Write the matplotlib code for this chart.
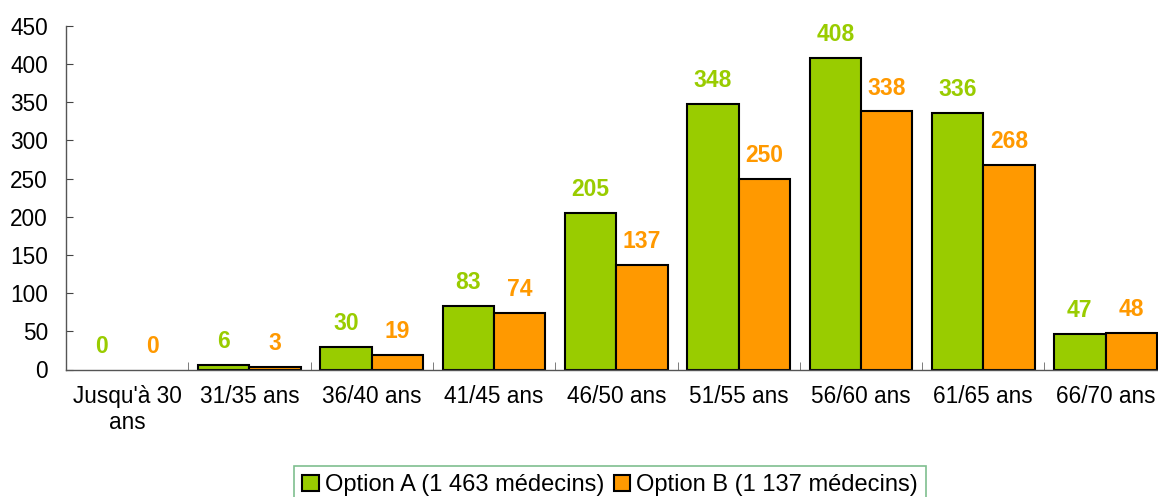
import numpy as np
import matplotlib
matplotlib.use("Agg")
import matplotlib.pyplot as plt
from matplotlib.patches import Patch

plt.rcParams['font.family'] = ['Liberation Sans', 'DejaVu Sans']

# --- DATA ---
categories = ["Jusqu'à 30\nans", "31/35 ans", "36/40 ans", "41/45 ans", "46/50 ans",
              "51/55 ans", "56/60 ans", "61/65 ans", "66/70 ans"]
option_a = [0, 6, 30, 83, 205, 348, 408, 336, 47]
option_b = [0, 3, 19, 74, 137, 250, 338, 268, 48]
label_a = "Option A (1 463 médecins)"
label_b = "Option B (1 137 médecins)"

GREEN = '#99CC00'
ORANGE = '#FF9900'
BAR_W = 0.42

fig = plt.figure(figsize=(11.58, 4.97), dpi=100)
ax = fig.add_axes([66 / 1158, 127.5 / 497, 1100.7 / 1158, 343.5 / 497])

x = np.arange(len(categories))
bars_a = ax.bar(x - BAR_W / 2, option_a, BAR_W, color=GREEN, edgecolor='black', linewidth=1.5)
bars_b = ax.bar(x + BAR_W / 2, option_b, BAR_W, color=ORANGE, edgecolor='black', linewidth=1.5)

# value labels above bars; empty bars get no outline
for bars, vals, col in [(bars_a, option_a, GREEN), (bars_b, option_b, ORANGE)]:
    for b, v in zip(bars, vals):
        if v == 0:
            b.set_linewidth(0)
        ax.annotate(str(v), (b.get_x() + b.get_width() / 2, v), xytext=(0, 8.5),
                    textcoords='offset points', ha='center', va='bottom',
                    color=col, fontsize=16.5, fontweight='bold')

ax.set_xlim(-0.5, len(categories) - 0.5)
ax.set_ylim(0, 450)
ax.set_yticks(np.arange(0, 451, 50))

ax.set_xticks(x)
ax.set_xticklabels(categories, fontsize=16.3, linespacing=1.2)
ax.set_xticks(np.arange(0.5, len(categories) - 0.5, 1), minor=True)
ax.tick_params(axis='x', which='major', length=0, pad=11)
ax.tick_params(axis='x', which='minor', direction='in', length=6, color='#666666')
ax.tick_params(axis='y', direction='in', length=5, pad=13, labelsize=16.3, color='#444444')

for s in ['top', 'right']:
    ax.spines[s].set_visible(False)
for s in ['left', 'bottom']:
    ax.spines[s].set_color('#555555')
    ax.spines[s].set_linewidth(1.0)

handles = [Patch(facecolor=GREEN, edgecolor='black', linewidth=1.5, label=label_a),
           Patch(facecolor=ORANGE, edgecolor='black', linewidth=1.5, label=label_b)]
leg = fig.legend(handles=handles, loc='upper center', bbox_to_anchor=(610 / 1158, 1 - 466 / 497),
                 ncol=2, fontsize=17, frameon=True, fancybox=False, framealpha=1,
                 handlelength=0.7, handleheight=0.7, handletextpad=0.25, columnspacing=0.4,
                 borderpad=0.35, borderaxespad=0)
leg.get_frame().set_edgecolor('#7FBF8F')
leg.get_frame().set_linewidth(1.2)

fig.savefig('out.png', dpi=100)
